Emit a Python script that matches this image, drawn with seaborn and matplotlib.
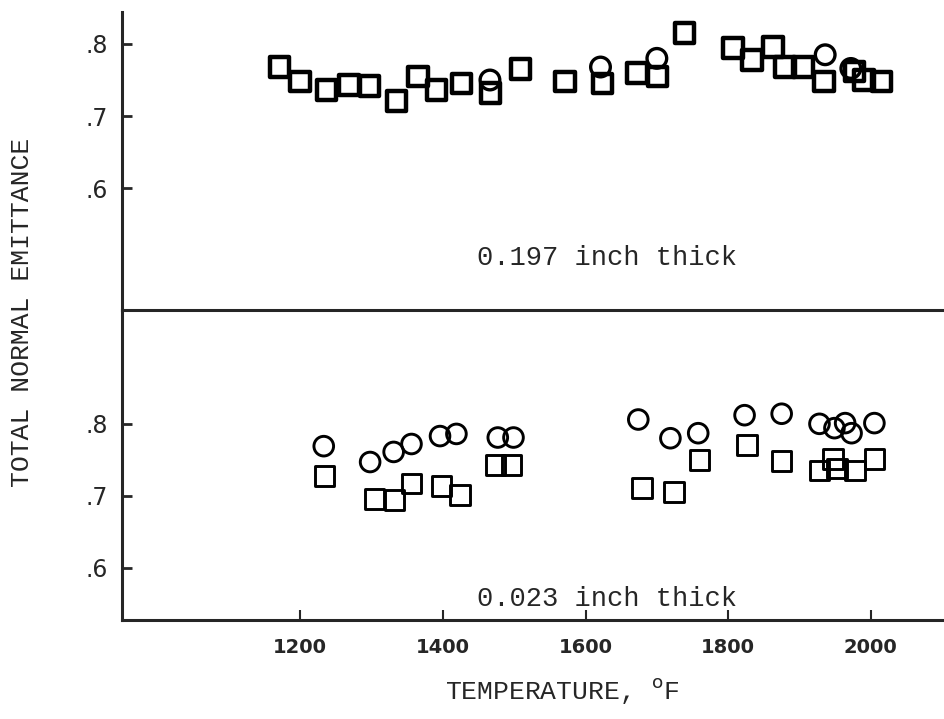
import matplotlib
matplotlib.use("Agg")
import matplotlib.pyplot as plt
from matplotlib.ticker import FuncFormatter
import seaborn as sns

# 0.197 inch thick specimen (upper panel)
thick_sq_temp = [1171, 1200, 1237, 1268, 1297, 1335, 1365, 1391, 1426, 1467, 1509, 1571,
                 1624, 1672, 1701, 1739, 1807, 1833, 1863, 1880, 1905, 1934, 1977, 1990, 2015]
thick_sq_emit = [0.768, 0.748, 0.736, 0.743, 0.742, 0.721, 0.755, 0.736, 0.745, 0.732, 0.765, 0.748,
                 0.745, 0.760, 0.755, 0.815, 0.794, 0.778, 0.796, 0.768, 0.768, 0.748, 0.762, 0.750, 0.748]
thick_ci_temp = [1466, 1621, 1700, 1936, 1972]
thick_ci_emit = [0.750, 0.768, 0.780, 0.785, 0.766]

# 0.023 inch thick specimen (lower panel)
thin_ci_temp = [1233, 1298, 1331, 1356, 1396, 1419, 1477, 1499, 1674, 1719, 1758,
                1823, 1875, 1928, 1949, 1964, 1973, 2005]
thin_ci_emit = [0.769, 0.747, 0.761, 0.772, 0.783, 0.786, 0.781, 0.781, 0.806, 0.780, 0.787,
                0.812, 0.814, 0.800, 0.794, 0.801, 0.787, 0.801]
thin_sq_temp = [1234, 1304, 1332, 1356, 1398, 1424, 1474, 1496, 1679, 1724, 1760,
                1826, 1875, 1928, 1947, 1953, 1978, 2005]
thin_sq_emit = [0.728, 0.696, 0.694, 0.717, 0.714, 0.701, 0.743, 0.743, 0.711, 0.705, 0.750,
                0.771, 0.748, 0.735, 0.751, 0.738, 0.735, 0.751]

x_ticks = [1200, 1400, 1600, 1800, 2000]
y_ticks = [0.6, 0.7, 0.8]

sns.set_style("ticks")
mono = ["Liberation Mono", "DejaVu Sans Mono"]

fig, (ax_top, ax_bot) = plt.subplots(
    2, 1, figsize=(9.45, 7.19), dpi=100, sharex=True,
    gridspec_kw={"height_ratios": [298, 310], "hspace": 0})
fig.subplots_adjust(left=0.129, right=1.0, top=0.983, bottom=0.138)

def points(ax, tx, ty, marker, lw):
    sns.scatterplot(x=tx, y=ty, ax=ax, marker=marker, s=200,
                    facecolor="none", edgecolor="black", linewidth=lw,
                    zorder=3, clip_on=False)

points(ax_top, thick_sq_temp, thick_sq_emit, "s", 3.2)
points(ax_top, thick_ci_temp, thick_ci_emit, "o", 2.4)
points(ax_bot, thin_ci_temp, thin_ci_emit, "o", 2.1)
points(ax_bot, thin_sq_temp, thin_sq_emit, "s", 2.1)

ax_top.set_ylim(0.431, 0.844)
ax_bot.set_ylim(0.528, 0.958)
ax_bot.set_xlim(950, 2104)

fmt = FuncFormatter(lambda v, _: f"{v:.1f}".lstrip("0"))
for ax in (ax_top, ax_bot):
    ax.patch.set_visible(False)
    sns.despine(ax=ax, top=True, right=True)
    for side in ("left", "bottom"):
        ax.spines[side].set_linewidth(2.2)
    ax.set_yticks(y_ticks)
    ax.yaxis.set_major_formatter(fmt)
    ax.tick_params(axis="y", direction="in", length=7, width=2, pad=10,
                   labelsize=17)
    ax.set_ylabel("")

ax_top.tick_params(axis="x", bottom=False, labelbottom=False)
ax_bot.set_xticks(x_ticks)
ax_bot.tick_params(axis="x", direction="in", length=7, width=1.5, pad=13,
                   labelsize=14)
for lab in ax_bot.get_xticklabels():
    lab.set_fontweight("bold")

ax_top.text(0.589, 0.174, "0.197 inch thick", transform=ax_top.transAxes,
            ha="center", va="center", fontsize=19.5, family=mono)
ax_bot.text(0.589, 0.068, "0.023 inch thick", transform=ax_bot.transAxes,
            ha="center", va="center", fontsize=19.5, family=mono)

ax_bot.set_xlabel("TEMPERATURE, $^{\\mathrm{o}}$F", fontsize=19, family=mono)
ax_bot.xaxis.set_label_coords(0.535, -0.18)

fig.text(22 / 945, 1 - 312 / 719, "TOTAL NORMAL EMITTANCE", rotation=90,
         ha="center", va="center", fontsize=19, family=mono)

plt.savefig("out.png", dpi=100)
